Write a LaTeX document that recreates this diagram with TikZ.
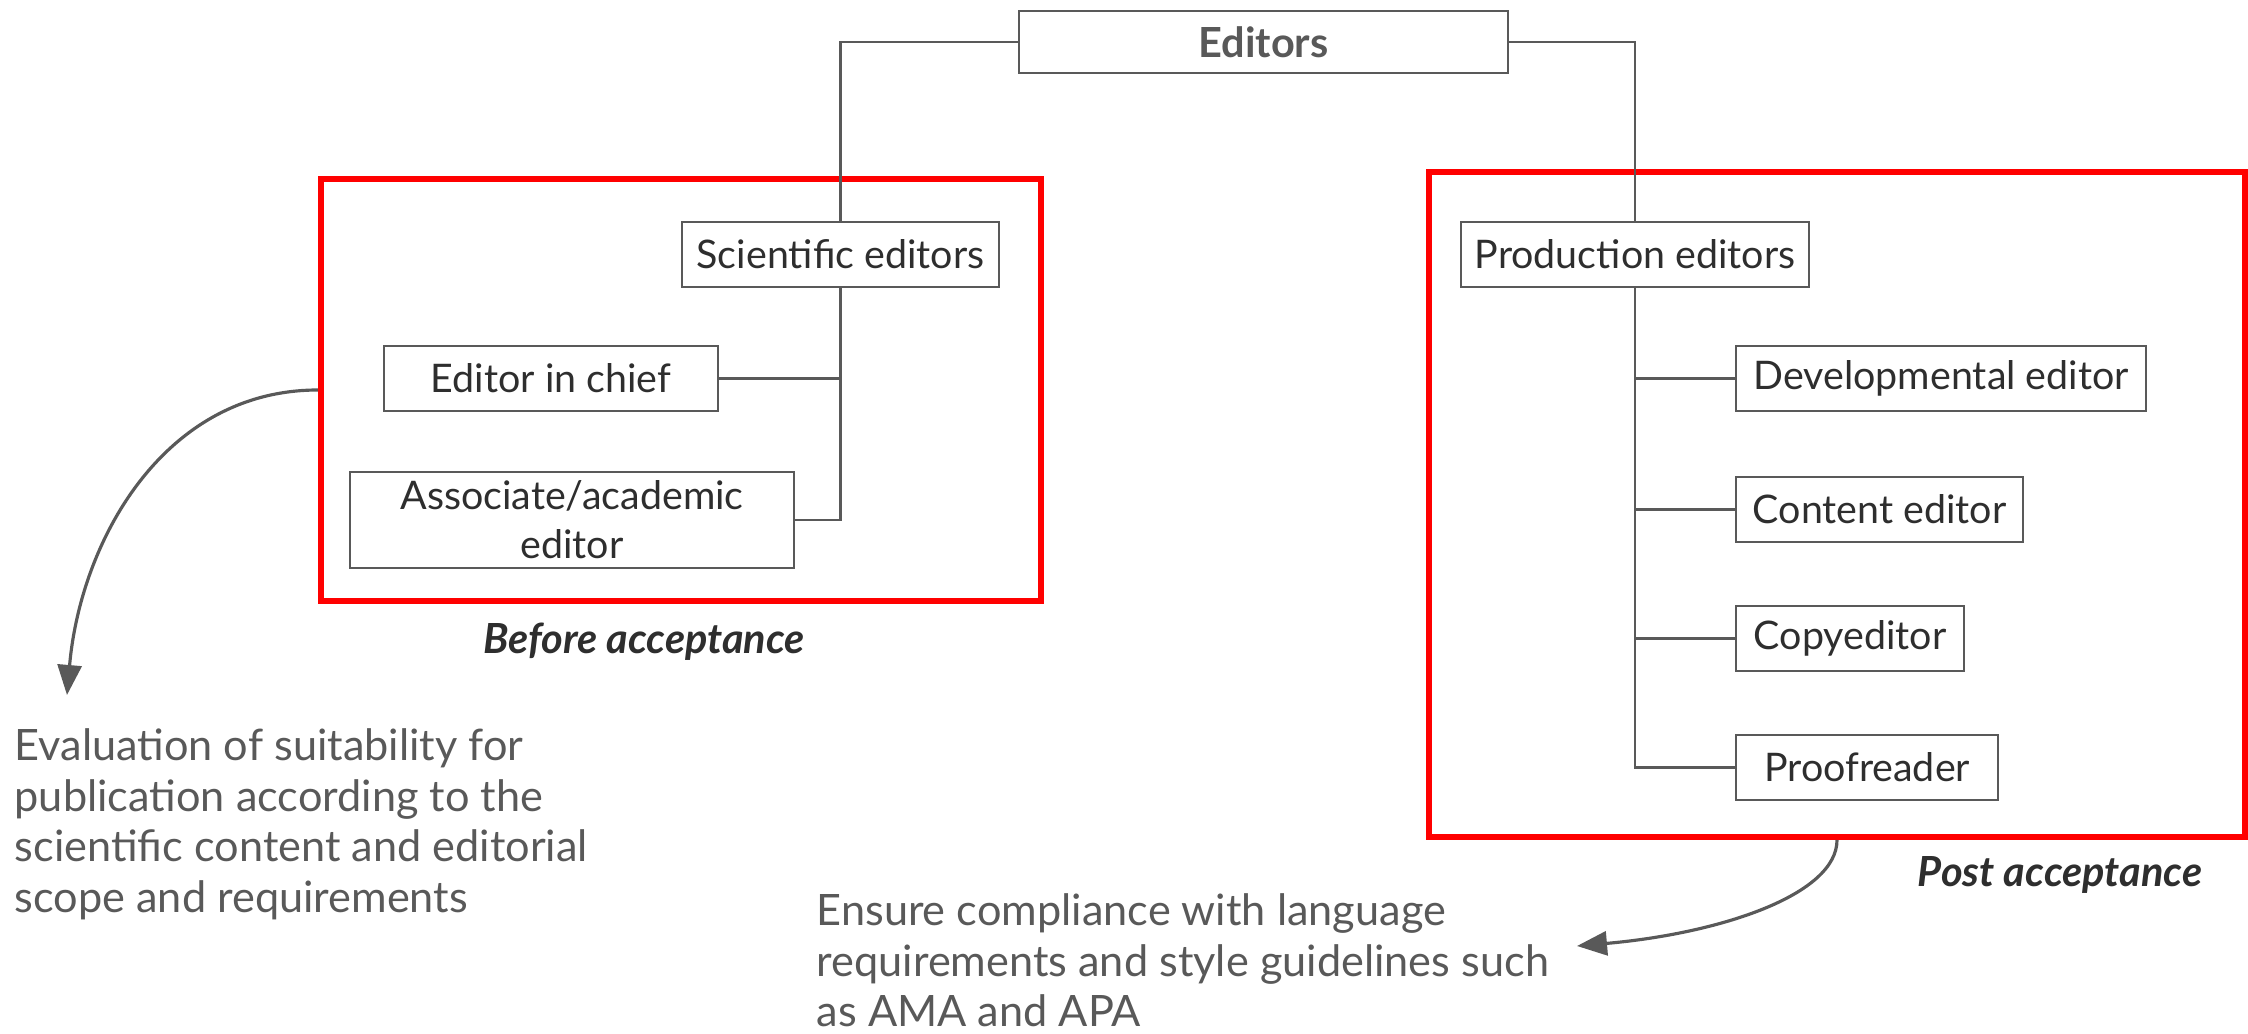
\documentclass[tikz,border=0pt]{standalone}
\usepackage{fontspec}
\setmainfont{Lato}
\usetikzlibrary{arrows.meta}
\definecolor{boxgray}{HTML}{595959}
\definecolor{frame}{HTML}{FF0000}
\definecolor{ink}{HTML}{2E2E2E}

\begin{document}
\begin{tikzpicture}[x=0.01cm,y=-0.01cm,
  role/.style={draw=boxgray,line width=0.6pt,text=ink,inner sep=0pt,minimum height=0.65cm,font=\fontsize{11.2}{14}\selectfont},
  stage/.style={draw=frame,line width=1.6pt,inner sep=0pt},
  link/.style={draw=boxgray,line width=0.6pt},
  note/.style={text=boxgray,align=left,anchor=north west,inner sep=0pt,font=\fontsize{12.3}{14.4}\selectfont},
  tag/.style={text=ink,font=\bfseries\itshape\fontsize{11.8}{14}\selectfont},
  curvearrow/.style={draw=boxgray,line width=0.9pt,-{Triangle[length=0.3cm,width=0.24cm]}}]
\useasboundingbox (0,0) rectangle (2248,1034);
\node[stage,minimum width=7.2cm,minimum height=4.22cm] (before) at (681,390) {};
\node[stage,minimum width=8.16cm,minimum height=6.65cm] (post) at (1837,504.5) {};
\node[role,minimum width=4.89cm,minimum height=0.62cm,text=boxgray,font=\bfseries\fontsize{11.8}{14}\selectfont] (editors) at (1263.5,42) {Editors};
\node[role,minimum width=3.17cm] (sci) at (840.5,254.5) {Scientific editors};
\node[role,minimum width=3.34cm] (chief) at (551,378.5) {Editor in chief};
\node[role,minimum width=4.44cm,minimum height=0.96cm,align=center] (assoc) at (572,520) {Associate/academic\\editor};
\node[role,minimum width=3.48cm] (prod) at (1635,254.5) {Production editors};
\draw[link] (editors.west) -| (sci.north);
\draw[link] (editors.east) -| (prod.north);
\draw[link] (sci.south) |- (chief.east);
\draw[link] (sci.south) |- (assoc.east);
\foreach \name/\w/\y/\txt in {dev/4.10/378.5/Developmental editor, cont/2.87/509.5/Content editor, copy/2.28/638.5/Copyeditor, proof/2.62/767.5/Proofreader}
  {
  \node[role,minimum width=\w cm,anchor=west] (\name) at (1735,\y) {\txt};
  \draw[link] (prod.south) |- (\name.west);
  }
\node[tag] (beforetag) at (644,642) {Before acceptance};
\node[tag] (posttag) at (2060,875) {Post acceptance};
\node[note] (evalnote) at (14,728) {Evaluation of suitability for\\publication according to the\\scientific content and editorial\\scope and requirements};
\node[note] (ensurenote) at (816,893) {Ensure compliance with language\\requirements and style guidelines such\\as AMA and APA};
\coordinate (evaltip) at (67,695);
\coordinate (ensuretip) at (1577,946);
\draw[curvearrow] (before.west) to[out=180,in=85] (evaltip);
\draw[curvearrow] (post.south) to[out=-90,in=5,out looseness=0.5,in looseness=1.3] (ensuretip);
\end{tikzpicture}
\end{document}
